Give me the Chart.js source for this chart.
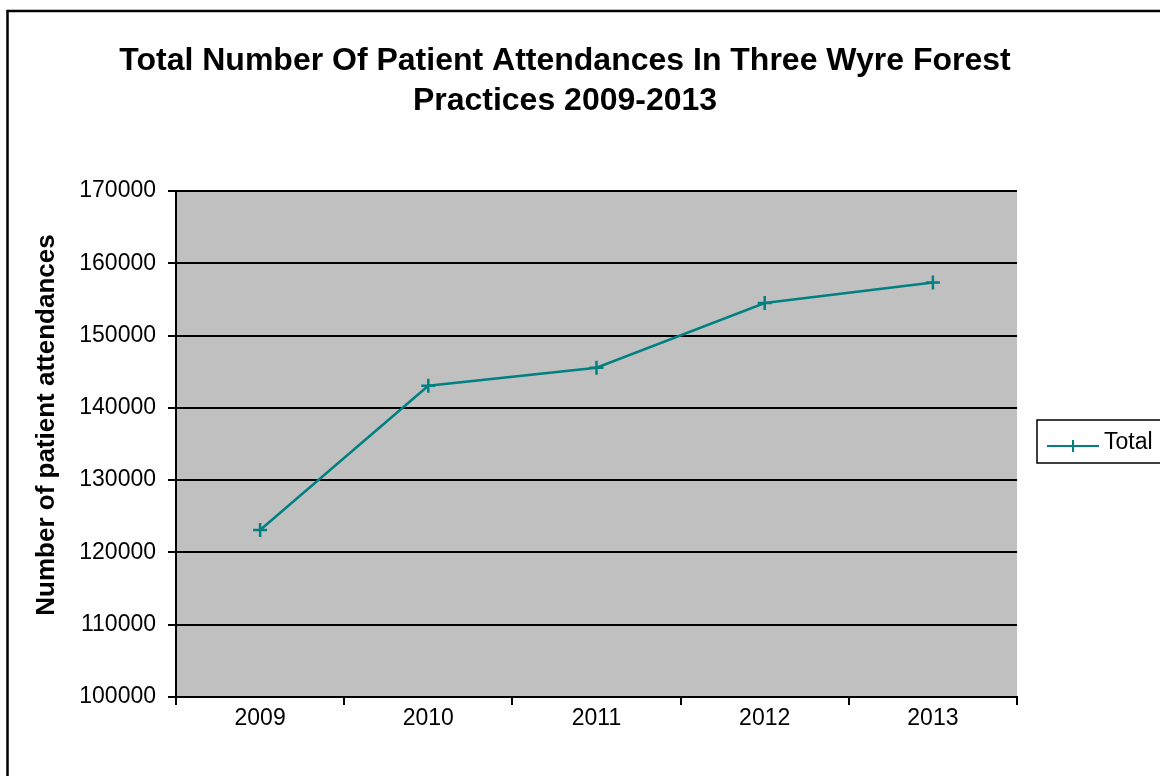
<!DOCTYPE html>
<html>
<head>
<meta charset="utf-8">
<script src="https://cdn.jsdelivr.net/npm/chart.js@4"></script>
<style>
  html, body { margin: 0; padding: 0; background: #fff; }
  #wrap { width: 1160px; height: 776px; position: relative; }
</style>
</head>
<body>
<div id="wrap"><canvas id="myChart" width="1160" height="776"></canvas></div>
<script>
var years = ["2009", "2010", "2011", "2012", "2013"];
var totals = [123100, 143050, 145550, 154500, 157350];
var seriesName = "Total";
var titleLines = ["Total Number Of Patient Attendances In Three Wyre Forest", "Practices 2009-2013"];
var yTitle = "Number of patient attendances";

var lineColor = "#008080";
var font = "'Liberation Sans', Arial, sans-serif";

// outer frame, grey plot area, titles and the boxed legend on the right
var decor = {
  id: "decor",
  beforeDraw: function (chart) {
    var ctx = chart.ctx;
    var a = chart.chartArea;
    ctx.save();
    ctx.fillStyle = "#fff";
    ctx.fillRect(0, 0, chart.width, chart.height);
    ctx.strokeStyle = "#000";
    ctx.lineWidth = 2.5;
    ctx.strokeRect(7.5, 11, 1300, 900);
    ctx.fillStyle = "#c0c0c0";
    ctx.fillRect(a.left, a.top, a.right - a.left, a.bottom - a.top);
    ctx.restore();
  },
  afterDraw: function (chart) {
    var ctx = chart.ctx;
    ctx.save();
    ctx.fillStyle = "#000";
    ctx.font = "bold 32px " + font;
    ctx.textAlign = "center";
    ctx.textBaseline = "middle";
    ctx.fillText(titleLines[0], 565, 61);
    ctx.fillText(titleLines[1], 565, 101);

    // y axis title, a bit above the middle of the plot as in the original
    ctx.save();
    ctx.translate(47, 425);
    ctx.rotate(-Math.PI / 2);
    ctx.font = "bold 26px " + font;
    ctx.fillText(yTitle, 0, 0);
    ctx.restore();

    // legend
    ctx.textAlign = "left";
    ctx.strokeStyle = "#000";
    ctx.lineWidth = 1.5;
    ctx.strokeRect(1037, 420, 200, 43);
    ctx.strokeStyle = lineColor;
    ctx.lineWidth = 2;
    ctx.beginPath();
    ctx.moveTo(1047, 446);
    ctx.lineTo(1099, 446);
    ctx.moveTo(1073, 440);
    ctx.lineTo(1073, 452);
    ctx.stroke();
    ctx.fillStyle = "#000";
    ctx.font = "23px " + font;
    ctx.fillText(seriesName, 1104, 443);
    ctx.restore();
  }
};

new Chart("myChart", {
  type: "line",
  data: {
    labels: years,
    datasets: [
      {
        label: seriesName,
        data: totals,
        borderColor: lineColor,
        backgroundColor: lineColor,
        borderWidth: 2.5,
        pointStyle: "cross",
        pointRadius: 7,
        pointBorderWidth: 2.5,
        pointHoverRadius: 7,
        tension: 0,
      },
    ],
  },
  options: {
    responsive: false,
    animation: false,
    layout: { padding: { left: 0, right: 143, top: 191, bottom: 0 } },
    plugins: {
      legend: { display: false },
      tooltip: { enabled: false },
      title: { display: false },
    },
    scales: {
      x: {
        offset: true,
        afterFit: function (s) { s.height = 79; },
        grid: { offset: true, drawOnChartArea: false, color: "#000", tickLength: 8, lineWidth: 2 },
        border: { color: "#000", width: 2 },
        ticks: { color: "#000", font: { family: font, size: 23 }, padding: 0 },
      },
      y: {
        min: 100000,
        max: 170000,
        afterFit: function (s) { s.width = 176; },
        grid: { color: "#000", lineWidth: 2, tickLength: 8 },
        border: { color: "#000", width: 2 },
        ticks: {
          stepSize: 10000,
          color: "#000",
          font: { family: font, size: 23 },
          padding: 12,
          callback: function (v) { return String(v); },
        },
      },
    },
  },
  plugins: [decor],
});
</script>
</body>
</html>
